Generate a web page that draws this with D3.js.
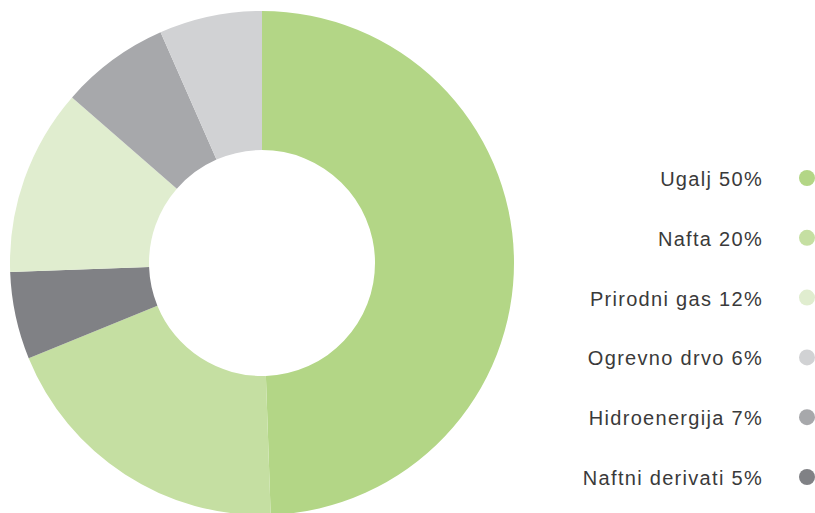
<!DOCTYPE html>
<html>
<head>
<meta charset="utf-8">
<script src="https://cdn.jsdelivr.net/npm/d3@7"></script>
<style>
  html, body { margin: 0; padding: 0; background: #fff; }
  svg { display: block; }
</style>
</head>
<body>
<div id="chart"></div>
<script>
var sliceNames  = ['Ugalj', 'Nafta', 'Naftni derivati', 'Prirodni gas', 'Hidroenergija', 'Ogrevno drvo']
var sliceShares = [49.5, 19.4, 5.6, 12.0, 7.0, 6.6]

// legend, top to bottom (as printed)
var legendNames = ['Ugalj', 'Nafta', 'Prirodni gas', 'Ogrevno drvo', 'Hidroenergija', 'Naftni derivati']
var legendPct   = [50, 20, 12, 6, 7, 5]

var colors = {
  'Ugalj': '#b3d686',
  'Nafta': '#c5dfa2',
  'Prirodni gas': '#e0edcf',
  'Ogrevno drvo': '#d1d2d4',
  'Hidroenergija': '#a7a8ab',
  'Naftni derivati': '#808185'
}

var W = 815, H = 513
var cx = 262, cy = 263
var rOut = 252, rIn = 113

var svg = d3.select('#chart').append('svg')
  .attr('width', W)
  .attr('height', H)

var data = sliceNames.map(function(n, i) { return {name: n, value: sliceShares[i]} })

var pie = d3.pie()
  .sort(null)
  .value(function(d) { return d.value })

var arc = d3.arc()
  .innerRadius(rIn)
  .outerRadius(rOut)

var ring = svg.append('g')
  .attr('transform', 'translate(' + cx + ',' + cy + ')')

ring.selectAll('path')
  .data(pie(data))
  .enter().append('path')
  .attr('d', arc)
  .attr('fill', function(d) { return colors[d.data.name] })

// legend
var rowY = d3.scalePoint()
  .domain(legendNames)
  .range([178, 477])

var leg = svg.append('g')

leg.selectAll('circle')
  .data(legendNames)
  .enter().append('circle')
  .attr('cx', 807)
  .attr('cy', function(d) { return rowY(d) })
  .attr('r', 8)
  .attr('fill', function(d) { return colors[d] })

leg.selectAll('text')
  .data(legendNames)
  .enter().append('text')
  .attr('x', 763)
  .attr('y', function(d) { return rowY(d) + 8 })
  .attr('text-anchor', 'end')
  .attr('font-family', '"Liberation Sans", Arial, sans-serif')
  .attr('font-size', 20)
  .attr('letter-spacing', 1.3)
  .attr('fill', '#3a3a3a')
  .text(function(d, i) { return d + ' ' + legendPct[i] + '%' })
</script>
</body>
</html>
